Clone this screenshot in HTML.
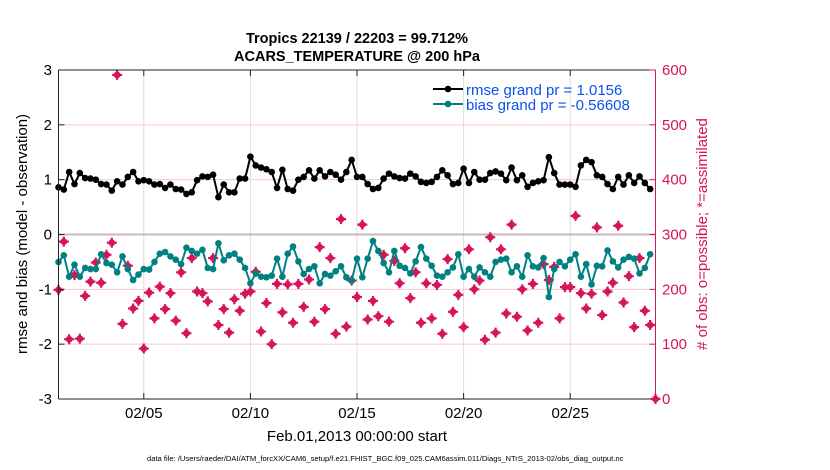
<!DOCTYPE html>
<html><head><meta charset="utf-8"><style>
body{margin:0;background:#fff;}
svg{display:block;font-family:"Liberation Sans",Arial,sans-serif;}
</style></head><body>
<svg id="chart" width="830" height="470" xmlns="http://www.w3.org/2000/svg">
<rect width="830" height="470" fill="#fff"/>
<g id="grid"></g>
<g id="marks"></g>
<g id="axes"></g>
<text x="357" y="43" text-anchor="middle" font-size="14.5" font-weight="bold">Tropics 22139 / 22203 = 99.712%</text>
<text x="357" y="61" text-anchor="middle" font-size="14.5" font-weight="bold">ACARS_TEMPERATURE @ 200 hPa</text>
<text transform="translate(27,234) rotate(-90)" text-anchor="middle" font-size="15">rmse and bias (model - observation)</text>
<text transform="translate(707,234) rotate(-90)" text-anchor="middle" font-size="15" fill="#d6145a">   # of obs: o=possible; *=assimilated</text>
<text x="357" y="441" text-anchor="middle" font-size="15">Feb.01,2013 00:00:00 start</text>
<text x="147" y="461" font-size="7.6">data file: /Users/raeder/DAI/ATM_forcXX/CAM6_setup/f.e21.FHIST_BGC.f09_025.CAM6assim.011/Diags_NTrS_2013-02/obs_diag_output.nc</text>
<g>
<line x1="433" y1="89" x2="463" y2="89" stroke="#000" stroke-width="2"/><circle cx="448" cy="89" r="3.3" fill="#000"/>
<text x="466" y="95" font-size="15" fill="#0a50f0">rmse grand pr = 1.0156</text>
<line x1="433" y1="104" x2="463" y2="104" stroke="#008080" stroke-width="2"/><circle cx="448" cy="104" r="3.3" fill="#008080"/>
<text x="466" y="110" font-size="15" fill="#0a50f0">bias grand pr = -0.56608</text>
</g>
</svg>
<script>
const rmse=[0.86,0.82,1.14,0.92,1.12,1.03,1.02,1.00,0.92,0.91,0.80,0.97,0.91,1.05,1.14,0.97,0.99,0.97,0.91,0.92,0.85,0.91,0.83,0.82,0.74,0.77,0.99,1.06,1.05,1.09,0.68,0.91,0.77,0.77,1.02,1.02,1.42,1.26,1.22,1.19,1.14,0.85,1.18,0.83,0.80,1.00,1.05,1.17,1.02,1.17,1.06,1.14,1.09,1.00,1.14,1.36,1.05,
1.05,0.92,0.83,0.85,1.02,1.11,1.06,1.03,1.02,1.11,1.06,0.96,0.94,0.96,1.05,1.17,1.08,0.92,0.94,1.20,0.94,1.14,1.00,1.00,1.12,1.15,1.11,0.99,1.22,0.99,1.08,0.87,0.94,0.97,0.99,1.41,1.12,0.91,0.91,0.91,0.87,1.26,1.36,1.32,1.08,1.05,0.92,0.83,1.05,0.91,1.08,0.94,1.06,0.94,0.83];
const bias=[-0.50,-0.38,-0.77,-0.55,-0.77,-0.61,-0.63,-0.63,-0.36,-0.52,-0.55,-0.69,-0.40,-0.63,-0.83,-0.73,-0.63,-0.64,-0.50,-0.35,-0.32,-0.40,-0.46,-0.54,-0.24,-0.30,-0.35,-0.28,-0.61,-0.63,-0.16,-0.47,-0.38,-0.35,-0.46,-0.61,-0.89,-0.71,-0.77,-0.78,-0.75,-0.44,-0.77,-0.35,-0.22,-0.49,-0.72,-0.63,-0.58,-0.89,-0.72,-0.75,-0.67,-0.58,-0.78,-0.84,-0.44,
-0.78,-0.44,-0.12,-0.30,-0.52,-0.69,-0.30,-0.57,-0.61,-0.71,-0.49,-0.23,-0.44,-0.57,-0.75,-0.77,-0.69,-0.60,-0.36,-0.77,-0.63,-0.77,-0.60,-0.69,-0.77,-0.50,-0.46,-0.44,-0.69,-0.58,-0.77,-0.38,-0.58,-0.60,-0.43,-1.14,-0.63,-0.50,-0.58,-0.46,-0.36,-0.77,-0.54,-0.91,-0.57,-0.58,-0.29,-0.49,-0.60,-0.46,-0.41,-0.44,-0.71,-0.61,-0.36];
const obsCount=[199,287,109,226,110,188,214,249,212,263,285,591,137,243,165,179,92,194,147,205,164,193,143,231,120,257,196,193,178,257,135,164,121,182,161,192,196,232,123,175,100,210,158,209,139,210,168,218,141,277,164,257,119,328,132,216,186,
318,145,179,151,263,141,252,211,275,184,231,139,211,147,208,119,255,159,190,131,273,200,216,108,295,121,273,156,318,150,200,125,210,139,246,217,241,147,204,204,334,193,165,192,313,153,196,212,316,176,224,131,257,161,135,0];
const xTickLabels=["02/05","02/10","02/15","02/20","02/25"];
const xTickDays=[4,9,14,19,24];
const yTicksLeft=[-3,-2,-1,0,1,2,3];
const yTicksRight=[0,100,200,300,400,500,600];
const stepDays=0.25;

const L=58.5,R=655.5,T=70,B=399,D0=0,D1=28;
const NS='http://www.w3.org/2000/svg';
const xS=d=>L+(d-D0)/(D1-D0)*(R-L);
const yL=v=>B-(v+3)/6*(B-T);
const yR=v=>B-v/600*(B-T);
function mk(tag,attrs,parent){const e=document.createElementNS(NS,tag);for(const k in attrs)e.setAttribute(k,attrs[k]);parent.appendChild(e);return e;}
const grid=document.getElementById('grid'),marks=document.getElementById('marks'),axes=document.getElementById('axes');
xTickDays.forEach(d=>{const l=mk('line',{x1:xS(d),x2:xS(d),y1:T,y2:B,stroke:'#dcdcdc','stroke-width':1},grid);

});
yTicksLeft.forEach(v=>{if(v===0||v===3||v===-3)return;const l=mk('line',{x1:L,x2:R,y1:yL(v),y2:yL(v),stroke:'#f4c8d6','stroke-width':1},grid);

});
const z=mk('line',{x1:L,x2:R,y1:yL(0),y2:yL(0),stroke:'#c8b8bc','stroke-width':2},grid);


// obs markers
obsCount.forEach((c,i)=>{const cx=xS(i*stepDays),cy=yR(c);
const g=mk('g',{},marks);


mk('circle',{cx:cx,cy:cy,r:3.4,fill:'#d6145a'},g);
mk('path',{d:`M${cx-5},${cy}H${cx+5}M${cx},${cy-5}V${cy+5}`,stroke:'#d6145a','stroke-width':2.2},g);});
function series(vals,color,name){const pts=vals.map((v,i)=>xS(i*stepDays).toFixed(1)+','+yL(v).toFixed(1)).join(' ');
const pl=mk('polyline',{points:pts,fill:'none',stroke:color,'stroke-width':2},marks);


vals.forEach((v,i)=>{const c=mk('circle',{cx:xS(i*stepDays),cy:yL(v),r:3.3,fill:color},marks);

});}
series(rmse,'#000','rmse');
series(bias,'#008080','bias');
// axes
mk('line',{x1:L,x2:R,y1:T,y2:T,stroke:'#222','stroke-width':1},axes);
mk('line',{x1:L,x2:R,y1:B,y2:B,stroke:'#222','stroke-width':1},axes);
mk('line',{x1:L,x2:L,y1:T,y2:B,stroke:'#222','stroke-width':1},axes);
mk('line',{x1:R,x2:R,y1:T,y2:B,stroke:'#d6145a','stroke-width':1},axes);
xTickDays.forEach((d,i)=>{mk('line',{x1:xS(d),x2:xS(d),y1:B,y2:B-6,stroke:'#222'},axes);mk('line',{x1:xS(d),x2:xS(d),y1:T,y2:T+6,stroke:'#222'},axes);
const t=mk('text',{x:xS(d),y:418,'text-anchor':'middle','font-size':15},axes);t.textContent=xTickLabels[i];

});
yTicksLeft.forEach(v=>{mk('line',{x1:L,x2:L+6,y1:yL(v),y2:yL(v),stroke:'#222'},axes);
const t=mk('text',{x:52,y:yL(v)+5,'text-anchor':'end','font-size':15},axes);t.textContent=v;

});
yTicksRight.forEach(v=>{mk('line',{x1:R-6,x2:R,y1:yR(v),y2:yR(v),stroke:'#d6145a'},axes);
const t=mk('text',{x:662,y:yR(v)+5,'font-size':15,fill:'#d6145a'},axes);t.textContent=v;

});
</script>
</body></html>
